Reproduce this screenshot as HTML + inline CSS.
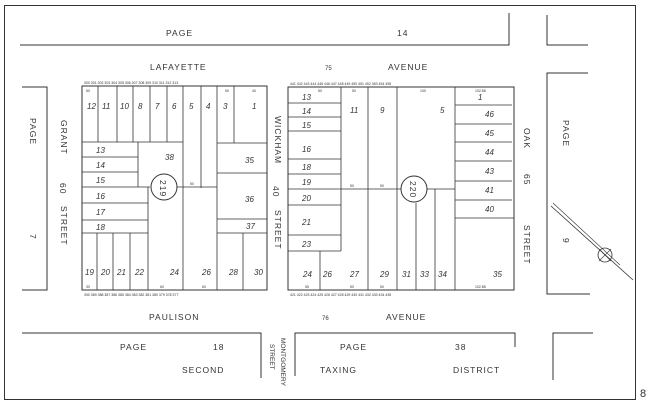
<!DOCTYPE html>
<html><head><meta charset="utf-8"><style>
html,body{margin:0;padding:0;background:#fff}
svg{display:block}
text{font-family:"Liberation Sans",sans-serif;fill:#333}
.l{font-size:8.5px;letter-spacing:1px}
.n{font-size:8px;font-style:italic}
.s{font-size:3.5px}
</style></head><body>
<svg width="650" height="403" viewBox="0 0 650 403" xmlns="http://www.w3.org/2000/svg">
<g stroke="#333" fill="none" stroke-width="1">
<rect x="4.5" y="5.5" width="631" height="394"/>
<polyline points="20,45 509,45 509,13"/>
<polyline points="547,15 547,45 588,45"/>
<polyline points="588,73 547,73 547,294 590,294"/>
<polyline points="22,87 47,87 47,290 22,290"/>
<polyline points="22,333 261,333 261,378"/>
<polyline points="295,376 295,333 515,333 515,347"/>
<polyline points="553,380 553,333 593,333"/>
<rect x="82" y="86" width="185" height="204"/>
<g stroke-width="0.8">
<line x1="98" y1="86" x2="98" y2="142"/><line x1="117" y1="86" x2="117" y2="142"/>
<line x1="133" y1="86" x2="133" y2="142"/><line x1="150" y1="86" x2="150" y2="142"/>
<line x1="167" y1="86" x2="167" y2="142"/><line x1="183" y1="86" x2="183" y2="290"/>
<line x1="201" y1="86" x2="201" y2="188"/><line x1="217" y1="86" x2="217" y2="290"/>
<line x1="234" y1="86" x2="234" y2="143"/>
<line x1="82" y1="142" x2="183" y2="142"/><line x1="217" y1="143" x2="267" y2="143"/>
<line x1="138" y1="142" x2="138" y2="187"/>
<line x1="82" y1="157" x2="138" y2="157"/><line x1="82" y1="172" x2="138" y2="172"/>
<line x1="82" y1="187" x2="150" y2="187"/><line x1="82" y1="203" x2="148" y2="203"/>
<line x1="82" y1="220" x2="148" y2="220"/><line x1="82" y1="233" x2="148" y2="233"/>
<line x1="148" y1="187" x2="148" y2="290"/>
<line x1="97" y1="233" x2="97" y2="290"/><line x1="113" y1="233" x2="113" y2="290"/>
<line x1="130" y1="233" x2="130" y2="290"/>
<line x1="176" y1="187" x2="217" y2="187"/>
<line x1="217" y1="173" x2="267" y2="173"/><line x1="217" y1="219" x2="267" y2="219"/>
<line x1="217" y1="233" x2="267" y2="233"/><line x1="243" y1="233" x2="243" y2="290"/>
</g>
<circle cx="164" cy="187" r="13" fill="#fff"/>
<rect x="288" y="87" width="226" height="203"/>
<g stroke-width="0.8">
<line x1="341" y1="87" x2="341" y2="251"/><line x1="368" y1="87" x2="368" y2="290"/>
<line x1="397" y1="87" x2="397" y2="290"/><line x1="455" y1="87" x2="455" y2="290"/>
<line x1="288" y1="103" x2="341" y2="103"/><line x1="288" y1="117" x2="341" y2="117"/>
<line x1="288" y1="131" x2="341" y2="131"/><line x1="288" y1="159" x2="341" y2="159"/>
<line x1="288" y1="174" x2="341" y2="174"/><line x1="288" y1="189" x2="341" y2="189"/>
<line x1="288" y1="205" x2="341" y2="205"/><line x1="288" y1="235" x2="341" y2="235"/>
<line x1="288" y1="251" x2="341" y2="251"/><line x1="320" y1="251" x2="320" y2="290"/>
<line x1="341" y1="189" x2="402" y2="189"/><line x1="426" y1="189" x2="455" y2="189"/>
<line x1="416" y1="203" x2="416" y2="290"/><line x1="435" y1="189" x2="435" y2="290"/>
<line x1="455" y1="105" x2="512" y2="105"/><line x1="455" y1="124" x2="512" y2="124"/>
<line x1="455" y1="142" x2="512" y2="142"/><line x1="455" y1="161" x2="512" y2="161"/>
<line x1="455" y1="181" x2="512" y2="181"/><line x1="455" y1="200" x2="512" y2="200"/>
<line x1="455" y1="218" x2="514" y2="218"/>
</g>
<circle cx="414" cy="189" r="13" fill="#fff"/>
<line x1="551" y1="206" x2="633" y2="280" stroke-width="0.8"/>
<line x1="553" y1="203" x2="620" y2="265" stroke-width="0.6"/>
<circle cx="605" cy="255" r="7" stroke-width="0.8"/>
<line x1="599" y1="249" x2="611" y2="261" stroke-width="0.6"/>
<line x1="611" y1="249" x2="599" y2="261" stroke-width="0.6"/>
</g>
<text class="l" x="166" y="36">PAGE</text><text class="l" x="397" y="36">14</text>
<text class="l" x="150" y="70">LAFAYETTE</text><text class="l" x="388" y="70">AVENUE</text>
<text x="325" y="70" font-size="6">75</text>
<text class="l" x="149" y="320">PAULISON</text><text class="l" x="386" y="320">AVENUE</text>
<text x="322" y="320" font-size="6">76</text>
<text class="l" x="120" y="350">PAGE</text><text class="l" x="213" y="350">18</text>
<text class="l" x="182" y="373">SECOND</text>
<text class="l" x="340" y="350">PAGE</text><text class="l" x="455" y="350">38</text>
<text class="l" x="320" y="373">TAXING</text><text class="l" x="453" y="373">DISTRICT</text>
<text x="640" y="397" font-size="11">8</text>
<g>
<text transform="translate(281,338) rotate(90)" font-size="6.5">MONTGOMERY</text>
<text transform="translate(270,344) rotate(90)" font-size="6.5">STREET</text>
<text transform="translate(30,118) rotate(90)" class="l">PAGE</text>
<text transform="translate(30,234) rotate(90)" class="l">7</text>
<text transform="translate(61,120) rotate(90)" class="l">GRANT</text>
<text transform="translate(60,183) rotate(90)" class="l">60</text>
<text transform="translate(61,206) rotate(90)" class="l">STREET</text>
<text transform="translate(275,116) rotate(90)" class="l">WICKHAM</text>
<text transform="translate(273,186) rotate(90)" class="l">40</text>
<text transform="translate(275,210) rotate(90)" class="l">STREET</text>
<text transform="translate(524,128) rotate(90)" class="l">OAK</text>
<text transform="translate(524,174) rotate(90)" class="l">65</text>
<text transform="translate(524,225) rotate(90)" class="l">STREET</text>
<text transform="translate(563,120) rotate(90)" class="l">PAGE</text>
<text transform="translate(563,238) rotate(90)" class="l">9</text>
<text transform="translate(160,180) rotate(90)" class="l">219</text>
<text transform="translate(410,181) rotate(90)" class="l">220</text>
</g>
<g class="n">
<text x="87" y="109">12</text><text x="102" y="109">11</text><text x="120" y="109">10</text>
<text x="138" y="109">8</text><text x="155" y="109">7</text><text x="172" y="109">6</text>
<text x="189" y="109">5</text><text x="206" y="109">4</text><text x="223" y="109">3</text>
<text x="252" y="109">1</text>
<text x="96" y="153">13</text><text x="96" y="168">14</text><text x="96" y="183">15</text>
<text x="96" y="199">16</text><text x="96" y="215">17</text><text x="96" y="230">18</text>
<text x="165" y="160">38</text><text x="245" y="163">35</text><text x="245" y="202">36</text>
<text x="246" y="229">37</text>
<text x="85" y="275">19</text><text x="101" y="275">20</text><text x="117" y="275">21</text>
<text x="135" y="275">22</text><text x="170" y="275">24</text><text x="202" y="275">26</text>
<text x="229" y="275">28</text><text x="254" y="275">30</text>
<text x="302" y="100">13</text><text x="302" y="114">14</text><text x="302" y="128">15</text>
<text x="302" y="152">16</text><text x="302" y="170">18</text><text x="302" y="185">19</text>
<text x="302" y="201">20</text><text x="302" y="225">21</text><text x="302" y="247">23</text>
<text x="350" y="113">11</text><text x="380" y="113">9</text><text x="440" y="113">5</text>
<text x="478" y="100">1</text><text x="485" y="117">46</text><text x="485" y="136">45</text>
<text x="485" y="155">44</text><text x="485" y="174">43</text><text x="485" y="193">41</text>
<text x="485" y="212">40</text><text x="493" y="277">35</text>
<text x="303" y="277">24</text><text x="323" y="277">26</text><text x="350" y="277">27</text>
<text x="380" y="277">29</text><text x="402" y="277">31</text><text x="420" y="277">33</text>
<text x="438" y="277">34</text>
</g>
<g class="s">
<text x="86" y="92">50</text><text x="225" y="92">50</text><text x="252" y="92">40</text>
<text x="86" y="288">30</text><text x="160" y="288">60</text><text x="202" y="288">60</text>
<text x="318" y="92">50</text><text x="352" y="92">50</text><text x="420" y="92">100</text>
<text x="475" y="92">102.88</text><text x="475" y="288">102.88</text>
<text x="305" y="288">55</text><text x="350" y="288">50</text><text x="380" y="288">50</text>
<text x="350" y="187">50</text><text x="380" y="187">50</text>
<text x="190" y="185">50</text>
</g>
<g class="s" fill="#444">
<text x="84" y="84">300 301 302 303 304 305 306 307 308 309 310 311 312 313</text>
<text x="84" y="296">390 389 388 387 386 385 384 383 382 381 380 379 378 377</text>
<text x="290" y="85">441 442 443 444 445 446 447 448 449 450 451 452 453 454 455</text>
<text x="290" y="296">421 422 423 424 425 426 427 428 429 430 431 432 433 434 435</text>
</g>
</svg>
</body></html>
